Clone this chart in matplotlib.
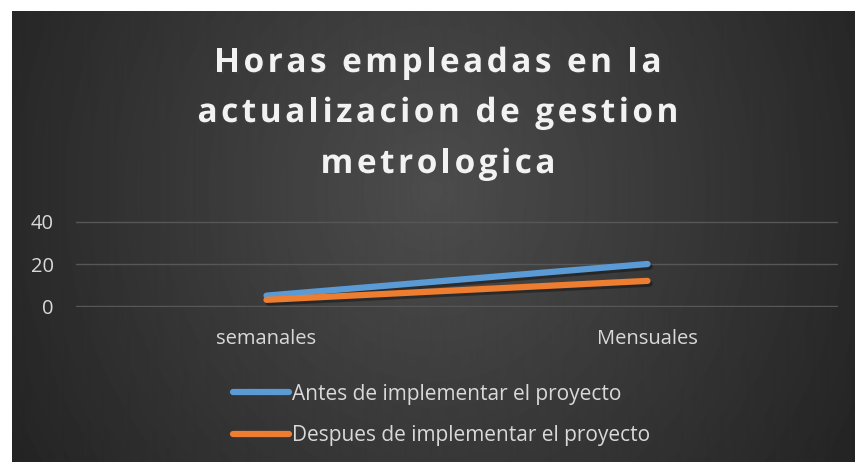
import numpy as np
import matplotlib.pyplot as plt
import matplotlib.patheffects as pe
from matplotlib.font_manager import FontProperties

categories = ['semanales', 'Mensuales']
antes = [5, 20]
despues = [3, 12]
series_labels = ['Antes de implementar el proyecto', 'Despues de implementar el proyecto']
title_lines = ['Horas empleadas en la', 'actualizacion de gestion', 'metrologica']
yticks = [0, 20, 40]

W, H = 855, 462
fig = plt.figure(figsize=(W / 100, H / 100), dpi=100)
fig.patch.set_facecolor('white')
plt.rcParams['font.family'] = ['Open Sans', 'DejaVu Sans']

# dark radial background
bg = fig.add_axes([12 / W, 0, (W - 12) / W, (H - 11) / H])
bg.set_axis_off()
yy, xx = np.mgrid[0:451, 0:843]
r = np.sqrt(((xx - 420) / 520.0) ** 2 + ((yy - 180) / 560.0) ** 2)
shade = np.clip(0.30 - 0.17 * r, 0.14, 0.30)
bg.imshow(shade, cmap='gray', vmin=0, vmax=1, aspect='auto', interpolation='bilinear')

ax = fig.add_axes([76 / W, (H - 307) / H, 762 / W, 86 / H])
ax.set_facecolor('none')
x = np.arange(len(categories))
shadow = [pe.SimpleLineShadow(offset=(1.5, -2), shadow_color='black', alpha=0.35), pe.Normal()]
ax.plot(x, antes, color='#5b9bd5', lw=4.5, solid_capstyle='round', label=series_labels[0], path_effects=shadow)
ax.plot(x, despues, color='#ed7d31', lw=4.5, solid_capstyle='round', label=series_labels[1], path_effects=shadow)
ax.set_xlim(-0.5, 1.5)
ax.set_ylim(-0.4, 40.4)
ax.set_yticks(yticks)
ax.set_xticks(x)
ax.set_xticklabels(categories)
ax.grid(axis='y', color='#575757', lw=1)
ax.set_axisbelow(True)
for s in ax.spines.values():
    s.set_visible(False)
ax.tick_params(length=0, colors='#d9d9d9', labelsize=14.5)
ax.tick_params(axis='x', pad=16)
ax.tick_params(axis='y', pad=16)

# title with letter spacing, drawn char by char
fp = FontProperties(family='Open Sans', weight='bold', size=24)
renderer = fig.canvas.get_renderer()
def char_widths(s):
    return [renderer.get_text_width_height_descent(c, fp, ismath=False)[0] for c in s]
w2 = char_widths(title_lines[1])
spacing = (481 - sum(w2)) / (len(title_lines[1]) - 1)
baselines = [72, 122, 173]
cx = 438
for line, base in zip(title_lines, baselines):
    ws = char_widths(line)
    total = sum(ws) + spacing * (len(line) - 1)
    xpos = cx - total / 2
    for c, w in zip(line, ws):
        if c != ' ':
            fig.text(xpos / W, 1 - base / H, c, fontproperties=fp, color='#f2f2f2',
                     ha='left', va='baseline',
                     path_effects=[pe.withSimplePatchShadow(offset=(1.2, -1.2), alpha=0.4)])
        xpos += w + spacing

leg = fig.legend(loc='center left', bbox_to_anchor=(233 / W, 1 - 415 / H), frameon=False,
                 fontsize=15, labelcolor='#d9d9d9', handlelength=2.7, handletextpad=0.15,
                 labelspacing=1.0, borderpad=0, borderaxespad=0)
for h in leg.get_lines():
    h.set_path_effects([])
    h.set_linewidth(4.5)

fig.savefig('out.png', dpi=100)
